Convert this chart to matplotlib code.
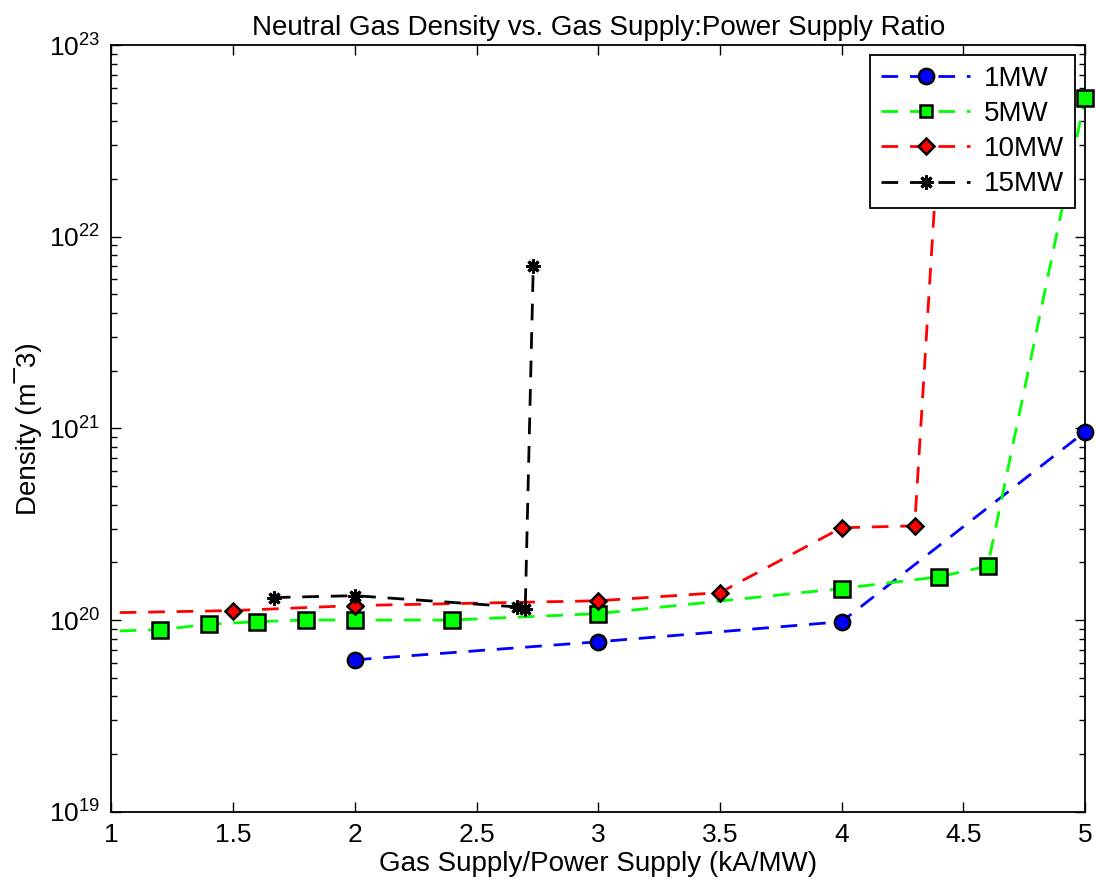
import numpy as np
import matplotlib
matplotlib.use("Agg")
import matplotlib.pyplot as plt

plt.rcParams['font.family'] = ['Liberation Sans', 'DejaVu Sans']
plt.rcParams['mathtext.fontset'] = 'custom'
plt.rcParams['mathtext.rm'] = 'Liberation Sans'
plt.rcParams['mathtext.it'] = 'Liberation Sans'
plt.rcParams['mathtext.default'] = 'regular'
plt.rcParams['lines.scale_dashes'] = False

########### data (ratio in kA/MW, density in m^-3)

x_1mw = [2.0, 3.0, 4.0, 5.0]
n_1mw = [6.2e19, 7.7e19, 9.8e19, 9.6e20]

x_5mw = [0.8, 1.2, 1.4, 1.6, 1.8, 2.0, 2.4, 3.0, 4.0, 4.4, 4.6, 5.0]
n_5mw = [8.6e19, 8.9e19, 9.5e19, 9.8e19, 1.0e20, 1.0e20, 1.0e20, 1.08e20, 1.46e20, 1.68e20, 1.91e20, 5.3e22]

x_10mw = [0.8, 1.5, 2.0, 3.0, 3.5, 4.0, 4.3, 4.4]
n_10mw = [1.08e20, 1.12e20, 1.19e20, 1.26e20, 1.39e20, 3.03e20, 3.1e20, 3.5e22]

x_15mw = [1.667, 2.0, 2.667, 2.7, 2.733]
n_15mw = [1.31e20, 1.34e20, 1.17e20, 1.14e20, 7.0e21]

labels = ['1MW', '5MW', '10MW', '15MW']

########### plot

fig = plt.figure(figsize=(10.96, 8.9), dpi=100)
ax = fig.add_axes([0.1017, 0.088, 0.8883, 0.8614])

dash = (12, 8.5)
star = (8, 2, 0)
styles = [
    (x_1mw, n_1mw, 'b', 'o', 11, 1.8),
    (x_5mw, n_5mw, '#00ff00', 's', 11, 1.8),
    (x_10mw, n_10mw, 'r', 'D', 8, 1.8),
    (x_15mw, n_15mw, 'k', star, 10, 2.2),
]

handles = []
for (xs, ns, col, mk, ms, mew), lab in zip(styles, labels):
    xs = np.array(xs)
    ns = np.array(ns)
    ax.plot(xs, ns, color=col, lw=2, dashes=dash, zorder=2)
    # markers inside the x range, drawn over the axes edge like the original
    keep = (xs >= 1) & (xs <= 5)
    fc = 'k' if mk == star else col
    ax.plot(xs[keep], ns[keep], ls='none', marker=mk, ms=ms, mew=mew,
            mfc=fc, mec='k', clip_on=False, zorder=3)
    h, = ax.plot([], [], color=col, lw=2, dashes=dash, marker=mk,
                 ms=ms if mk != 's' else 9, mew=mew, mfc=fc, mec='k')
    handles.append(h)

ax.set_yscale('log')
ax.set_xlim(1, 5)
ax.set_ylim(1e19, 1e23)
ax.set_xticks([1, 1.5, 2, 2.5, 3, 3.5, 4, 4.5, 5])
ax.set_xticklabels(['1', '1.5', '2', '2.5', '3', '3.5', '4', '4.5', '5'])

ax.tick_params(which='both', direction='in', top=True, right=True, width=1)
ax.tick_params(which='major', length=7, pad=8)
ax.tick_params(axis='x', labelsize=19)
ax.tick_params(axis='y', labelsize=19)
ax.tick_params(which='minor', length=4)
for s in ax.spines.values():
    s.set_linewidth(1.3)

ax.set_title('Neutral Gas Density vs. Gas Supply:Power Supply Ratio', fontsize=20, pad=7)
ax.set_xlabel('Gas Supply/Power Supply (kA/MW)', fontsize=20, labelpad=3)
ax.set_ylabel('Density (m\u00af3)', fontsize=20, labelpad=5)

leg = ax.legend(handles, labels, loc='upper right', fontsize=20, frameon=True,
                fancybox=False, edgecolor='k', framealpha=1, handlelength=3.2,
                borderpad=0.4, labelspacing=0.33, handletextpad=0.5,
                borderaxespad=0.35)
leg.get_frame().set_linewidth(1.3)
leg.set_zorder(5)

fig.savefig('out.png', dpi=100)
